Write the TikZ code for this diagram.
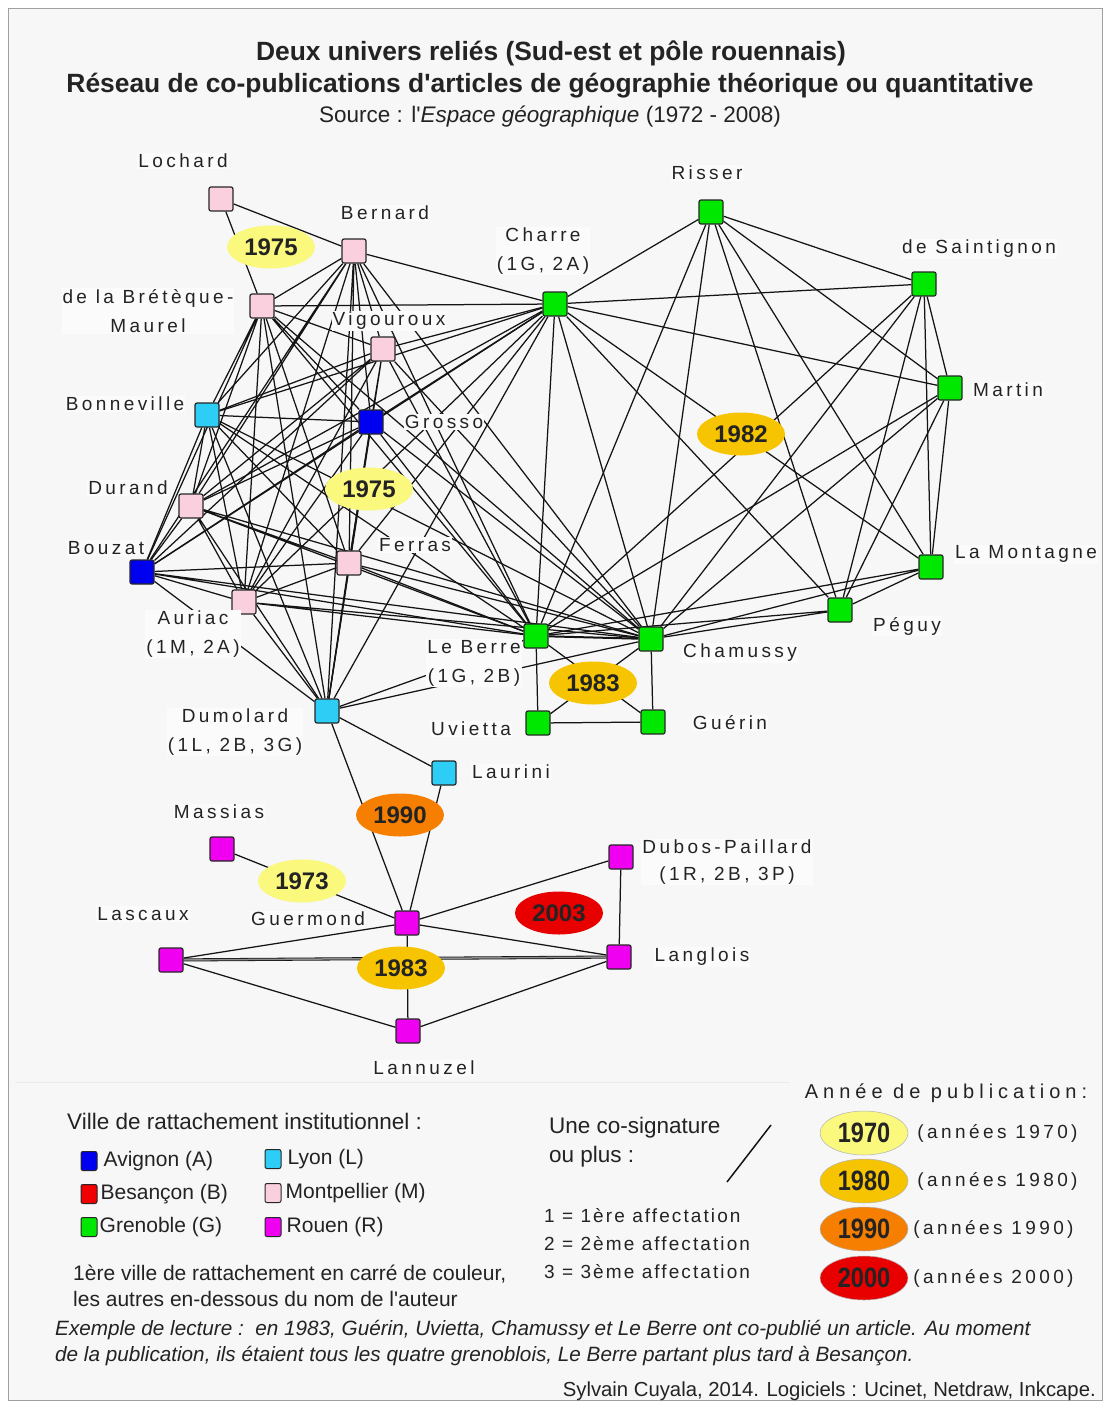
\documentclass[tikz,border=0pt]{standalone}
\usepackage{fontspec}
\setmainfont{Liberation Sans}
\newfontfamily\basefont{Liberation Sans}
\newfontfamily\spacedfont[LetterSpace=18]{Liberation Sans}
\newfontfamily\widefont[LetterSpace=25]{Liberation Sans}
\newfontfamily\affectfont[LetterSpace=11]{Liberation Sans}
\newfontfamily\narrowfont[FakeStretch=0.84]{Liberation Sans}
\usetikzlibrary{positioning, shapes.geometric}
\pgfdeclarelayer{bg}
\pgfdeclarelayer{edges}
\pgfsetlayers{bg,edges,main}
\definecolor{cBg}   {RGB}{247,247,247}
\definecolor{cFrame}{RGB}{160,160,160}
\definecolor{cMtp}  {RGB}{250,208,222}
\definecolor{cGre}  {RGB}{0,232,0}
\definecolor{cAvi}  {RGB}{0,0,240}
\definecolor{cLyo}  {RGB}{45,205,245}
\definecolor{cRou}  {RGB}{240,0,240}
\definecolor{cBes}  {RGB}{240,0,0}
\definecolor{cY70}  {RGB}{250,248,125}
\definecolor{cY80}  {RGB}{246,196,0}
\definecolor{cY90}  {RGB}{246,126,0}
\definecolor{cY00}  {RGB}{232,0,0}
\definecolor{cDark} {RGB}{35,35,35}

\begin{document}
\begin{tikzpicture}[
  x=1pt, y=-1pt, font=\basefont,
  % ── author squares
  auth/.style={draw=black!85, line width=1.2pt, rounded corners=2pt,
    minimum size=24pt, inner sep=0pt},
  mtp/.style={auth, fill=cMtp},
  gre/.style={auth, fill=cGre},
  avi/.style={auth, fill=cAvi},
  lyo/.style={auth, fill=cLyo},
  rou/.style={auth, fill=cRou},
  % ── author names
  lbl/.style={fill=white!50!cBg, inner sep=1pt, text=cDark,
    font=\spacedfont\fontsize{19}{29}\selectfont},
  % ── year ellipses
  yr/.style={ellipse, inner sep=0pt, minimum width=88pt, minimum height=43pt,
    font=\basefont\bfseries\fontsize{24}{24}\selectfont, text=cDark},
  y70/.style={yr, fill=cY70},
  y80/.style={yr, fill=cY80},
  y90/.style={yr, fill=cY90},
  y00/.style={yr, fill=cY00},
  lgyr/.style={minimum width=88pt, minimum height=44pt, draw=black!30, line width=0.5pt,
    font=\narrowfont\bfseries\fontsize{28}{28}\selectfont},
  % ── links
  lnk/.style={draw=black!92, line width=1.25pt},
  % ── legend
  leg/.style={font=\basefont\fontsize{21}{26}\selectfont, text=cDark, inner sep=1pt},
  lgsq/.style={draw=black!85, line width=1pt, rounded corners=2pt,
    minimum width=16pt, minimum height=19pt, inner sep=0pt},
]

% frame and background
\begin{pgfonlayer}{bg}
  \useasboundingbox (0,0) rectangle (1104,1403);
  \fill[white] (0,0) rectangle (1104,1403);
  \draw[cFrame, fill=cBg, line width=1pt] (8,8) rectangle (1102,1400);
  \draw[black!8, line width=1pt] (15,1082) -- (790,1082);
\end{pgfonlayer}

%% ── TITLE
\node[font=\basefont\bfseries\fontsize{26.4}{28}\selectfont, text=cDark] (title1) at (551,53)
  {Deux univers reliés (Sud-est et pôle rouennais)};
\node[font=\basefont\bfseries\fontsize{26.4}{28}\selectfont, text=cDark] (title2) at (550,86)
  {Réseau de co-publications d'articles de géographie théorique ou quantitative};
\node[font=\basefont\fontsize{22.5}{24}\selectfont, text=cDark] (title3) at (550,117)
  {Source : l'\textit{Espace géographique} (1972 - 2008)};

%% ── AUTHORS (Sud-est)
\node[mtp] (LOC) at (221,199) {};
\node[mtp] (BER) at (354,251) {};
\node[mtp] (BRE) at (262,306) {};
\node[mtp] (VIG) at (383,349) {};
\node[gre] (CHA) at (555,304) {};
\node[gre] (RIS) at (711,212) {};
\node[gre] (SAI) at (924,284) {};
\node[gre] (MAR) at (950,388) {};
\node[lyo] (BON) at (207,415) {};
\node[avi] (GRO) at (371,422) {};
\node[mtp] (DUR) at (191,506) {};
\node[avi] (BOU) at (142,572) {};
\node[mtp] (FER) at (349,563) {};
\node[mtp] (AUR) at (244,602) {};
\node[gre] (LEB) at (536,636) {};
\node[gre] (CHM) at (651,639) {};
\node[gre] (PEG) at (840,610) {};
\node[gre] (LAM) at (931,567) {};
\node[gre] (UVI) at (538,723) {};
\node[gre] (GUE) at (653,722) {};
\node[lyo] (DUM) at (327,711) {};
\node[lyo] (LAU) at (444,773) {};

%% ── AUTHORS (Rouen)
\node[rou] (MAS) at (222,849) {};
\node[rou] (DUB) at (621,857) {};
\node[rou] (GUM) at (407,923) {};
\node[rou] (LAS) at (171,960) {};
\node[rou] (LAN) at (619,957) {};
\node[rou] (LNZ) at (408,1031) {};

%% ── NAMES
\node[lbl] (tLOC) at (183,161) {Lochard};
\node[lbl] (tBER) at (385,213) {Bernard};
\node[lbl, align=center] (tCHA) at (543,251) {Charre\\(1G, 2A)};
\node[lbl] (tRIS) at (707,173) {Risser};
\node[lbl] (tSAI) at (979,249) {de Saintignon};
\node[lbl, align=center] (tBRE) at (148,311) {de la Brétèque-\\Maurel};
\node[lbl] (tVIG) at (389,321) {Vigouroux};
\node[lbl] (tMAR) at (1008,390) {Martin};
\node[lbl] (tBON) at (125,404) {Bonneville};
\node[lbl] (tGRO) at (444,422) {Grosso};
\node[lbl] (tDUR) at (128,488) {Durand};
\node[lbl] (tBOU) at (106,548) {Bouzat};
\node[lbl] (tFER) at (415,545) {Ferras};
\node[lbl] (tLAM) at (1026,554) {La Montagne};
\node[lbl, align=center] (tAUR) at (193,634) {Auriac\\(1M, 2A)};
\node[lbl] (tPEG) at (907,626) {Péguy};
\node[lbl, align=center] (tLEB) at (474,663) {Le Berre\\(1G, 2B)};
\node[lbl] (tCHM) at (740,653) {Chamussy};
\node[lbl, align=center] (tDUM) at (235,732) {Dumolard\\(1L, 2B, 3G)};
\node[lbl] (tUVI) at (471,729) {Uvietta};
\node[lbl] (tGUE) at (730,723) {Guérin};
\node[lbl] (tLAU) at (511,772) {Laurini};
\node[lbl] (tMAS) at (219,812) {Massias};
\node[lbl, align=center, font=\spacedfont\fontsize{19}{27}\selectfont] (tDUB) at (727,862) {Dubos-Paillard\\(1R, 2B, 3P)};
\node[lbl] (tLAS) at (143,914) {Lascaux};
\node[lbl] (tGUM) at (308,919) {Guermond};
\node[lbl] (tLAN) at (702,957) {Langlois};
\node[lbl] (tLNZ) at (424,1068) {Lannuzel};

%% ── YEARS
\node[y70] (Y1) at (271,247) {1975};
\node[y70] (Y2) at (369,489) {1975};
\node[y80] (Y3) at (741,434) {1982};
\node[y80] (Y4) at (593,683) {1983};
\node[y90] (Y5) at (400,815) {1990};
\node[y70] (Y6) at (302,881) {1973};
\node[y00] (Y7) at (559,913) {2003};
\node[y80] (Y8) at (401,968) {1983};

%% ── LINKS
\begin{pgfonlayer}{edges}
% 1975 (Lochard)
\draw[lnk] (LOC) -- (BER) (LOC) -- (BRE) (BER) -- (BRE);
% 1975 (large Sud-est group)
\draw[lnk] (BER) -- (VIG) (BER) -- (GRO) (BER) -- (BON) (BER) -- (DUR)
  (BER) -- (BOU) (BER) -- (FER) (BER) -- (AUR) (BER) -- (DUM)
  (BER) -- (CHA) (BER) -- (LEB) (BER) -- (CHM);
\draw[lnk] (BRE) -- (VIG) (BRE) -- (GRO) (BRE) -- (BON) (BRE) -- (DUR)
  (BRE) -- (BOU) (BRE) -- (FER) (BRE) -- (AUR) (BRE) -- (DUM)
  (BRE) -- (CHA) (BRE) -- (LEB) (BRE) -- (CHM);
\draw[lnk] (VIG) -- (GRO) (VIG) -- (BON) (VIG) -- (DUR) (VIG) -- (BOU)
  (VIG) -- (FER) (VIG) -- (AUR) (VIG) -- (DUM) (VIG) -- (CHA)
  (VIG) -- (LEB) (VIG) -- (CHM);
\draw[lnk] (GRO) -- (BON) (GRO) -- (DUR) (GRO) -- (BOU) (GRO) -- (FER)
  (GRO) -- (AUR) (GRO) -- (DUM) (GRO) -- (CHA) (GRO) -- (LEB) (GRO) -- (CHM);
\draw[lnk] (BON) -- (DUR) (BON) -- (BOU) (BON) -- (FER) (BON) -- (AUR)
  (BON) -- (DUM) (BON) -- (CHA) (BON) -- (LEB) (BON) -- (CHM);
\draw[lnk] (DUR) -- (BOU) (DUR) -- (FER) (DUR) -- (AUR) (DUR) -- (DUM)
  (DUR) -- (CHA) (DUR) -- (LEB) (DUR) -- (CHM);
\draw[lnk] (BOU) -- (FER) (BOU) -- (AUR) (BOU) -- (DUM) (BOU) -- (CHA)
  (BOU) -- (LEB) (BOU) -- (CHM);
\draw[lnk] (FER) -- (AUR) (FER) -- (DUM) (FER) -- (CHA) (FER) -- (LEB) (FER) -- (CHM);
\draw[lnk] (AUR) -- (DUM) (AUR) -- (CHA) (AUR) -- (LEB) (AUR) -- (CHM);
\draw[lnk] (DUM) -- (CHA) (DUM) -- (LEB) (DUM) -- (CHM);
\draw[lnk] (CHA) -- (LEB) (CHA) -- (CHM);
% 1982
\draw[lnk] (RIS) -- (CHA) (RIS) -- (SAI) (RIS) -- (MAR) (RIS) -- (LAM)
  (RIS) -- (PEG) (RIS) -- (CHM) (RIS) -- (LEB);
\draw[lnk] (SAI) -- (CHA) (SAI) -- (MAR) (SAI) -- (LAM) (SAI) -- (PEG)
  (SAI) -- (CHM) (SAI) -- (LEB);
\draw[lnk] (MAR) -- (CHA) (MAR) -- (LAM) (MAR) -- (PEG) (MAR) -- (CHM) (MAR) -- (LEB);
\draw[lnk] (LAM) -- (CHA) (LAM) -- (PEG) (LAM) -- (CHM) (LAM) -- (LEB);
\draw[lnk] (PEG) -- (CHA) (PEG) -- (CHM) (PEG) -- (LEB);
% 1983 (Grenoble)
\draw[lnk, line width=2pt] (LEB) -- (CHM);
\draw[lnk] (LEB) -- (UVI) (LEB) -- (GUE) (CHM) -- (UVI) (CHM) -- (GUE) (UVI) -- (GUE);
% 1990
\draw[lnk] (DUM) -- (LAU) (DUM) -- (GUM) (LAU) -- (GUM);
% 1973
\draw[lnk] (MAS) -- (GUM);
% 2003
\draw[lnk] (GUM) -- (DUB) (DUB) -- (LAN) (GUM) -- (LAN);
% 1983 (Rouen)
\draw[lnk] (LAS) -- (GUM) (LAS) -- (LNZ) (GUM) -- (LNZ) (LAN) -- (LNZ);
\draw[lnk, double=black!45, double distance=1.5pt, line width=0.8pt] (LAS) -- (LAN);
\end{pgfonlayer}

%% ── LEGEND: institutions
\node[leg, anchor=west, font=\basefont\fontsize{22.5}{26}\selectfont] (legT) at (66,1121) {Ville de rattachement institutionnel :};
\node[lgsq, fill=cAvi] (lgA) at (89,1161) {};
\node[leg, right=5pt of lgA] (lgAt) {Avignon (A)};
\node[lgsq, fill=cBes] (lgB) at (89,1194) {};
\node[leg, right=2pt of lgB] (lgBt) {Besançon (B)};
\node[lgsq, fill=cGre] (lgG) at (89,1227) {};
\node[leg, right=1pt of lgG] (lgGt) {Grenoble (G)};
\node[lgsq, fill=cLyo] (lgL) at (273,1159) {};
\node[leg, right=5pt of lgL] (lgLt) {Lyon (L)};
\node[lgsq, fill=cMtp] (lgM) at (273,1193) {};
\node[leg, right=3pt of lgM] (lgMt) {Montpellier (M)};
\node[lgsq, fill=cRou] (lgR) at (273,1227) {};
\node[leg, right=4pt of lgR] (lgRt) {Rouen (R)};
\node[leg, anchor=west, align=left] (legN) at (72,1286)
  {1ère ville de rattachement en carré de couleur,\\les autres en-dessous du nom de l'auteur};

%% ── LEGEND: links
\node[leg, anchor=west, align=left, font=\basefont\fontsize{22.5}{29}\selectfont] (legC) at (548,1142) {Une co-signature\\ou plus :};
\coordinate (slA) at (727,1182);
\coordinate (slB) at (771,1125);
\draw[lnk, line width=1.5pt] (slA) -- (slB);
\node[leg, anchor=west, font=\affectfont\fontsize{19}{21}\selectfont] (af1) at (543,1216) {1 = 1ère affectation};
\node[leg, anchor=west, font=\affectfont\fontsize{19}{21}\selectfont] (af2) at (543,1244) {2 = 2ème affectation};
\node[leg, anchor=west, font=\affectfont\fontsize{19}{21}\selectfont] (af3) at (543,1272) {3 = 3ème affectation};

%% ── LEGEND: years
\node[leg, font=\widefont\fontsize{20}{22}\selectfont] (legY) at (946,1093) {Année de publication:};
\node[y70, lgyr] (lg70) at (864,1133) {1970};
\node[y80, lgyr] (lg80) at (864,1181) {1980};
\node[y90, lgyr] (lg90) at (864,1229) {1990};
\node[y00, lgyr] (lg00) at (864,1278) {2000};
\node[leg, font=\spacedfont\fontsize{19}{21}\selectfont, right=8pt of lg70] (lg70t) {(années 1970)};
\node[leg, font=\spacedfont\fontsize{19}{21}\selectfont, right=8pt of lg80] (lg80t) {(années 1980)};
\node[leg, font=\spacedfont\fontsize{19}{21}\selectfont, right=4pt of lg90] (lg90t) {(années 1990)};
\node[leg, font=\spacedfont\fontsize{19}{21}\selectfont, right=4pt of lg00] (lg00t) {(années 2000)};

%% ── READING EXAMPLE
\node[leg, anchor=west, align=left, font=\basefont\itshape\fontsize{20.7}{26}\selectfont] (exm) at (54,1343)
  {Exemple de lecture :\ \ en 1983, Guérin, Uvietta, Chamussy et Le Berre ont co-publié un article. Au moment\\
   de la publication, ils étaient tous les quatre grenoblois, Le Berre partant plus tard à Besançon.};
\node[leg, anchor=east, font=\basefont\fontsize{20.3}{24}\selectfont] (cred) at (1097,1391) {Sylvain Cuyala, 2014. Logiciels : Ucinet, Netdraw, Inkcape.};

\end{tikzpicture}
\end{document}
